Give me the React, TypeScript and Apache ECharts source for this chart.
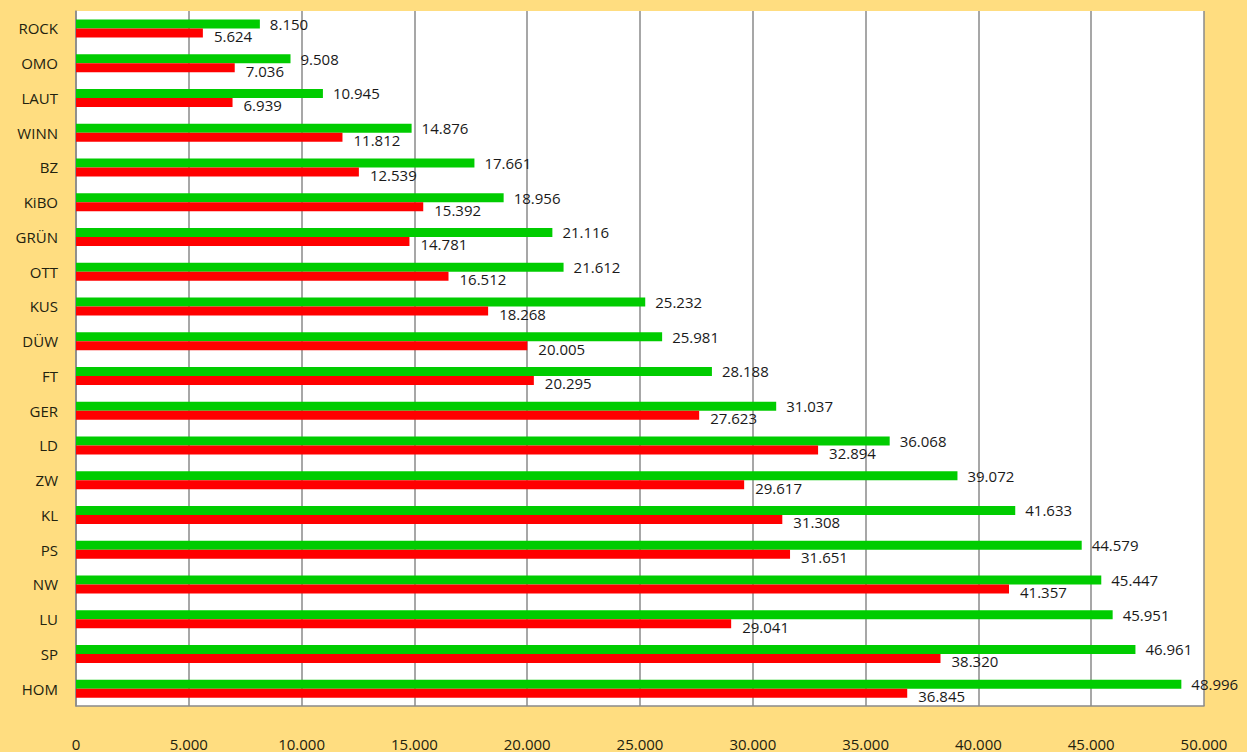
import React, { useEffect, useRef } from "react";
import * as echarts from "echarts";

const categories = ["ROCK", "OMO", "LAUT", "WINN", "BZ", "KiBO", "GRÜN", "OTT", "KUS", "DÜW", "FT", "GER", "LD", "ZW", "KL", "PS", "NW", "LU", "SP", "HOM"];
const greenValues = [8150, 9508, 10945, 14876, 17661, 18956, 21116, 21612, 25232, 25981, 28188, 31037, 36068, 39072, 41633, 44579, 45447, 45951, 46961, 48996];
const redValues = [5624, 7036, 6939, 11812, 12539, 15392, 14781, 16512, 18268, 20005, 20295, 27623, 32894, 29617, 31308, 31651, 41357, 29041, 38320, 36845];

const fmt = (v: number) => {
  const s = Math.round(v).toString();
  return s.replace(/\B(?=(\d{3})+(?!\d))/g, ".");
};

const FONT = "'Open Sans', 'Noto Sans', sans-serif";

export default function App() {
  const ref = useRef<HTMLDivElement>(null);
  useEffect(() => {
    if (!ref.current) return;
    const chart = echarts.init(ref.current, undefined, { renderer: "svg" });
    chart.setOption({
      animation: false,
      backgroundColor: "#FFDD80",
      grid: {
        left: 76,
        right: 43,
        top: 11,
        bottom: 46,
        show: true,
        backgroundColor: "#FFFFFF",
        borderWidth: 0,
      },
      xAxis: {
        type: "value",
        min: 0,
        max: 50000,
        interval: 5000,
        axisLine: { show: true, lineStyle: { color: "#8a8a8a", width: 1.5 } },
        axisTick: { show: false },
        splitLine: { show: true, lineStyle: { color: "#8a8a8a", width: 1.5 } },
        axisLabel: {
          margin: 30,
          fontFamily: FONT,
          fontSize: 15,
          color: "#22220f",
          formatter: (v: number) => fmt(v),
        },
      },
      yAxis: {
        type: "category",
        data: categories,
        inverse: true,
        axisLine: { show: true, lineStyle: { color: "#8a8a8a", width: 1.5 } },
        axisTick: { show: false },
        axisLabel: {
          margin: 18,
          fontFamily: FONT,
          fontSize: 15,
          fontWeight: 500,
          color: "#22220f",
        },
      },
      series: [
        {
          type: "bar",
          data: greenValues,
          barWidth: 9,
          barGap: "0%",
          itemStyle: { color: "#00CC00" },
          label: {
            show: true,
            position: "right",
            distance: 10,
            offset: [0, 0],
            fontFamily: FONT,
            fontSize: 15,
            color: "#1a1a1a",
            formatter: (p: any) => fmt(p.value),
          },
        },
        {
          type: "bar",
          data: redValues,
          barWidth: 9,
          barGap: "0%",
          itemStyle: { color: "#FF0000" },
          label: {
            show: true,
            position: "right",
            distance: 11,
            offset: [0, 3],
            fontFamily: FONT,
            fontSize: 15,
            color: "#1a1a1a",
            formatter: (p: any) => fmt(p.value),
          },
        },
      ],
    });
    return () => chart.dispose();
  }, []);
  return (
    <div
      ref={ref}
      style={{ position: "fixed", left: 0, top: 0, width: 1247, height: 752 }}
    />
  );
}
